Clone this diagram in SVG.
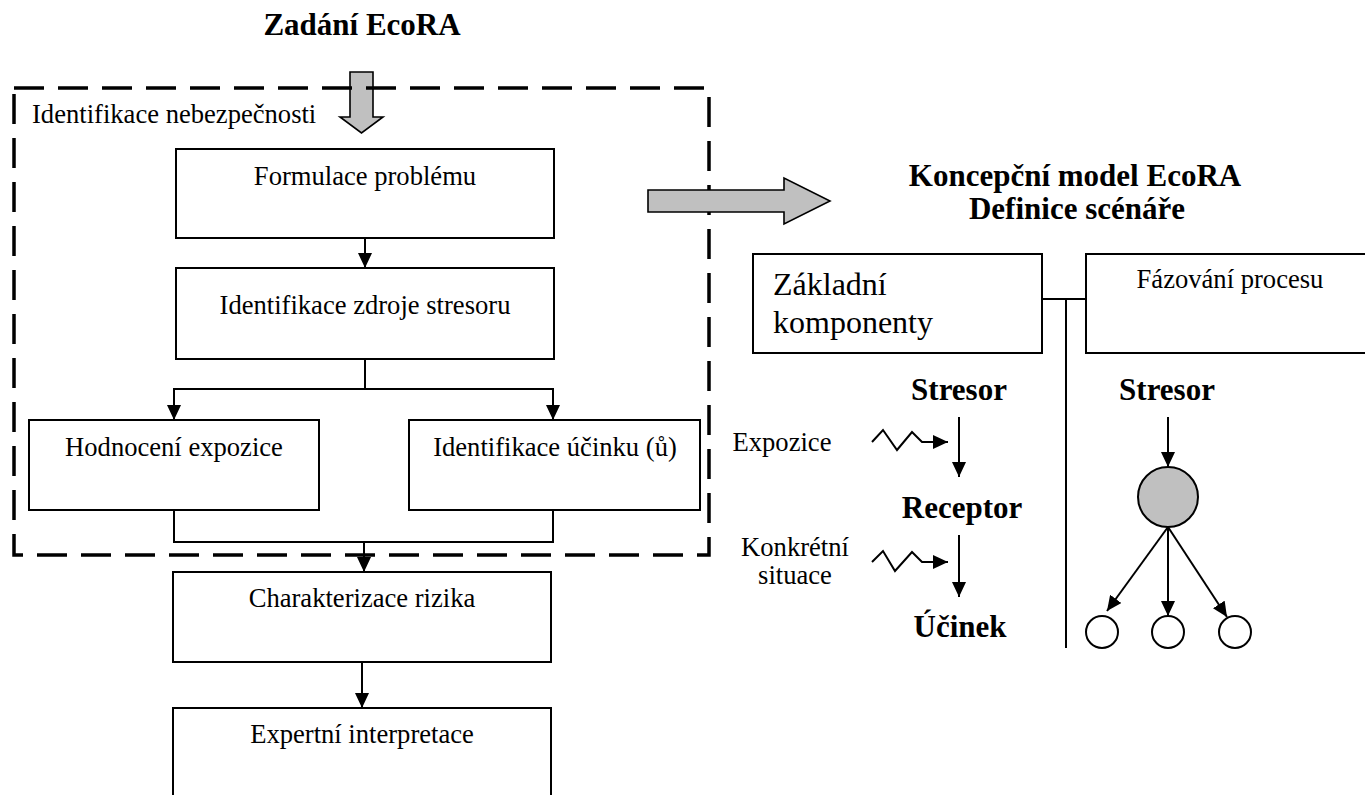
<svg xmlns="http://www.w3.org/2000/svg" width="1365" height="795" viewBox="0 0 1365 795">
<defs>
<style>
text{font-family:"Liberation Serif","Times New Roman",serif;fill:#000}
.t{font-size:26.6px}
.b{font-size:31px;font-weight:bold}
.big{font-size:32px}
.box{fill:#fff;stroke:#000;stroke-width:2}
.ln{fill:none;stroke:#000;stroke-width:2}
.gray{fill:#c0c0c0;stroke:#000;stroke-width:1.6;stroke-linejoin:miter}
.dash{fill:none;stroke:#000;stroke-width:3.5;stroke-dasharray:30 14}
</style>
<marker id="ah" markerUnits="userSpaceOnUse" markerWidth="15" markerHeight="14" viewBox="0 0 15 14" refX="15" refY="7" orient="auto">
<path d="M0,0 L15,7 L0,14 z" fill="#000"/>
</marker>
</defs>
<rect width="1365" height="795" fill="#fff"/>

<g id="title-left"><text class="b" x="362" y="35" text-anchor="middle">Zadání EcoRA</text></g>

<g id="arrow-down"><polygon class="gray" points="350,72 373,72 373,117 383,117 361.5,133 340,117 350,117"/></g>

<g id="hazard-frame">
<rect class="dash" x="14" y="88" width="695" height="467"/>
<text class="t" x="32" y="123">Identifikace nebezpečnosti</text>
</g>

<g id="arrow-right"><polygon class="gray" points="648,190 784,190 784,178 830,201 784,224 784,212 648,212"/></g>

<g id="title-right">
<text class="b" x="1075" y="186" text-anchor="middle">Koncepční model EcoRA</text>
<text class="b" x="1077" y="219" text-anchor="middle">Definice scénáře</text>
</g>

<g id="connectors">
<line class="ln" x1="365" y1="238" x2="365" y2="268" marker-end="url(#ah)"/>
<polyline class="ln" points="365,359 365,389"/>
<polyline class="ln" points="174,420 174,389 553,389 553,420" marker-end="url(#ah)"/>
<line class="ln" x1="174" y1="389" x2="174" y2="420" marker-end="url(#ah)"/>
<polyline class="ln" points="174,510 174,542 553,542 553,510"/>
<line class="ln" x1="364" y1="542" x2="364" y2="572" marker-end="url(#ah)"/>
<line class="ln" x1="362" y1="662" x2="362" y2="708" marker-end="url(#ah)"/>
<line class="ln" x1="1042" y1="299" x2="1086" y2="299"/>
<line class="ln" x1="1066" y1="299" x2="1066" y2="648"/>
<line class="ln" x1="959" y1="417" x2="959" y2="477" marker-end="url(#ah)"/>
<line class="ln" x1="959" y1="535" x2="959" y2="597" marker-end="url(#ah)"/>
<polyline class="ln" points="872,442 883,430 897,450 912,432 922,442 948,442" marker-end="url(#ah)"/>
<polyline class="ln" points="872,562 883,551 895,571 912,552 922,562 948,562" marker-end="url(#ah)"/>
<line class="ln" x1="1168" y1="417" x2="1168" y2="467" marker-end="url(#ah)"/>
<line class="ln" x1="1168" y1="527" x2="1107" y2="611" marker-end="url(#ah)"/>
<line class="ln" x1="1168" y1="527" x2="1168" y2="616" marker-end="url(#ah)"/>
<line class="ln" x1="1168" y1="527" x2="1227" y2="617" marker-end="url(#ah)"/>
</g>

<g id="formulace">
<rect class="box" x="176" y="149" width="378" height="89"/>
<text class="t" x="365" y="185" text-anchor="middle">Formulace problému</text>
</g>
<g id="zdroj">
<rect class="box" x="176" y="268" width="378" height="91"/>
<text class="t" x="365" y="314" text-anchor="middle">Identifikace zdroje stresoru</text>
</g>
<g id="hodnoceni">
<rect class="box" x="29" y="420" width="290" height="90"/>
<text class="t" x="174" y="456" text-anchor="middle">Hodnocení expozice</text>
</g>
<g id="ucinek-id">
<rect class="box" x="409" y="420" width="291" height="90"/>
<text class="t" x="555" y="456" text-anchor="middle">Identifikace účinku (ů)</text>
</g>
<g id="charakterizace">
<rect class="box" x="173" y="572" width="378" height="90"/>
<text class="t" x="362" y="607" text-anchor="middle">Charakterizace rizika</text>
</g>
<g id="expertni">
<rect class="box" x="173" y="708" width="378" height="100"/>
<text class="t" x="362" y="743" text-anchor="middle">Expertní interpretace</text>
</g>

<g id="zakladni">
<rect class="box" x="753" y="254" width="289" height="99"/>
<text class="big" x="773" y="295">Základní</text>
<text class="big" x="773" y="333">komponenty</text>
</g>
<g id="fazovani">
<rect class="box" x="1086" y="254" width="290" height="99"/>
<text class="t" x="1230" y="288" text-anchor="middle">Fázování procesu</text>
</g>

<g id="chain">
<text class="b" x="959" y="400" text-anchor="middle">Stresor</text>
<text class="b" x="962" y="518" text-anchor="middle">Receptor</text>
<text class="b" x="960" y="637" text-anchor="middle">Účinek</text>
<text class="t" x="782" y="451" text-anchor="middle">Expozice</text>
<text class="t" x="795" y="556" text-anchor="middle">Konkrétní</text>
<text class="t" x="795" y="584" text-anchor="middle">situace</text>
</g>

<g id="tree">
<text class="b" x="1167" y="400" text-anchor="middle">Stresor</text>
<circle cx="1168" cy="497" r="30" fill="#c0c0c0" stroke="#000" stroke-width="2"/>
<circle cx="1102" cy="632" r="16" fill="#fff" stroke="#000" stroke-width="2"/>
<circle cx="1168" cy="632" r="16" fill="#fff" stroke="#000" stroke-width="2"/>
<circle cx="1235" cy="632" r="16" fill="#fff" stroke="#000" stroke-width="2"/>
</g>
</svg>
